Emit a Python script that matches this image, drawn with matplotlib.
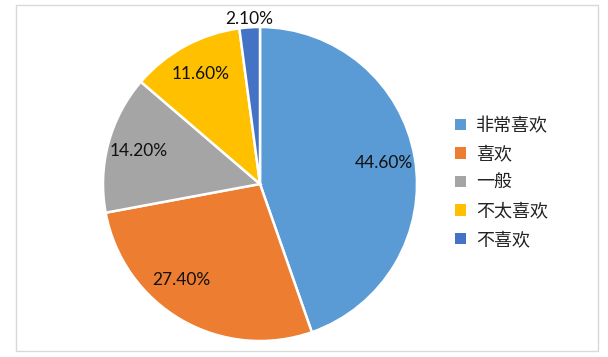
import matplotlib
matplotlib.use("Agg")
import matplotlib.pyplot as plt
from matplotlib.patches import Rectangle

plt.rcParams['font.family'] = ['Noto Sans CJK SC', 'DejaVu Sans']

# data
labels = ["非常喜欢", "喜欢", "一般", "不太喜欢", "不喜欢"]
values = [44.6, 27.4, 14.2, 11.6, 2.1]
colors = ["#5B9BD5", "#ED7D31", "#A5A5A5", "#FFC000", "#4472C4"]

fig = plt.figure(figsize=(6.08, 3.57), dpi=100)

# pie axes: centre (260,184) px, radius 157 px
W, H = 608, 357
cx, cy, r = 260, 184, 157
ax = fig.add_axes([(cx - r) / W, (H - cy - r) / H, 2 * r / W, 2 * r / H])

wedges, texts, autotexts = ax.pie(
    values, colors=colors, startangle=90, counterclock=False,
    autopct=lambda p: "", pctdistance=0.8,
    wedgeprops=dict(edgecolor="white", linewidth=1.8),
)
ax.set_xlim(-1, 1)
ax.set_ylim(-1, 1)
ax.set_aspect("equal")
ax.axis("off")

# percentage labels, written as shown
for t, v in zip(autotexts, values):
    t.set_text(f"{v:.2f}%")
    t.set_fontfamily("Lato")
    t.set_fontsize(12.5)
    t.set_color("#111111")

# the tiny slice label sits just outside the pie
x, y = autotexts[-1].get_position()
autotexts[-1].set_position((x * 1.32, y * 1.32))
# Excel "best fit" pushes this one a little round
x, y = autotexts[1].get_position()
autotexts[1].set_position((x - 0.1, y + 0.08))

leg = ax.legend(wedges, labels, loc="center left",
                bbox_to_anchor=(448 / W, 1 - 183 / H), bbox_transform=fig.transFigure,
                frameon=False, fontsize=13, handlelength=0.6, handleheight=0.6,
                handletextpad=0.55, labelspacing=0.58, borderaxespad=0)
for h in leg.legend_handles:
    h.set_edgecolor("none")
for t in leg.get_texts():
    t.set_color("#222222")

# chart border
fig.patches.append(Rectangle((16 / W, 1 - 351 / H), 582 / W, 346 / H,
                             transform=fig.transFigure, fill=False,
                             edgecolor="#D9D9D9", linewidth=1))

fig.savefig("out.png", dpi=100)
